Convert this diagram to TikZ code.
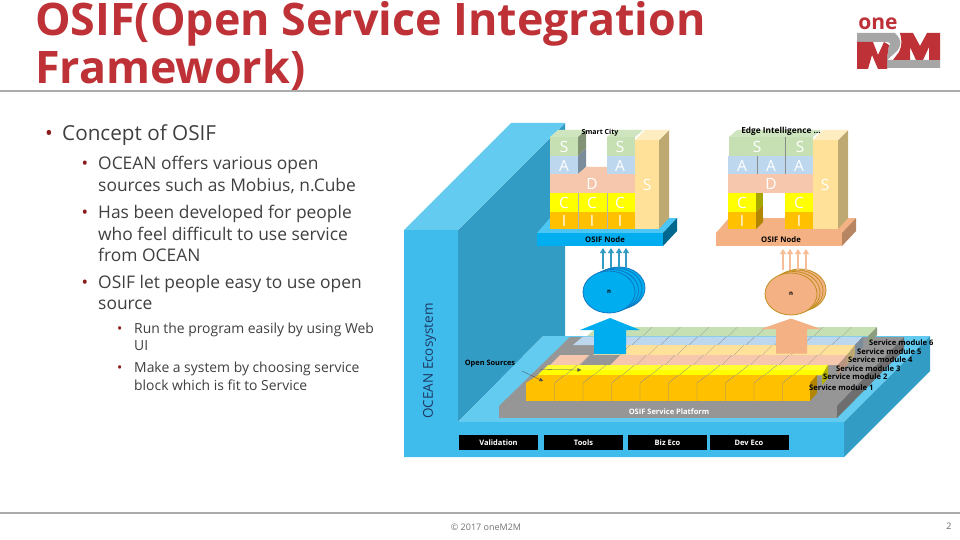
\documentclass[tikz,border=0pt]{standalone}
\usepackage{fontspec}
\setmainfont{Open Sans}
\usetikzlibrary{arrows.meta,shapes.geometric}
\definecolor{titlered}{HTML}{BE3237}
\definecolor{bodytxt}{HTML}{404040}
\definecolor{bulletred}{HTML}{8B1A1A}
\definecolor{wallfront}{HTML}{3FBCEC}
\definecolor{walltop}{HTML}{63CAF0}
\definecolor{wallside}{HTML}{339CC4}
\definecolor{gtop}{HTML}{969696}
\definecolor{gside}{HTML}{6E6E6E}
\definecolor{orng}{HTML}{FFC000}
\definecolor{yel}{HTML}{FFFF00}
\definecolor{pch}{HTML}{F6C7AC}
\definecolor{pyel}{HTML}{FFE199}
\definecolor{pblu}{HTML}{BDD7EE}
\definecolor{pgrn}{HTML}{C6E0B4}
\definecolor{nodeblue}{HTML}{00ADEF}
\definecolor{nodeor}{HTML}{F4B183}
\definecolor{lm}{HTML}{BE3237}
\definecolor{ellbline}{HTML}{1078C0}
\definecolor{elloline}{HTML}{C09020}
\definecolor{navytxt}{HTML}{1F3864}
\tikzset{
  px/.style={x=1pt,y=-1pt},
  bodyA/.style={anchor=base west,text=bodytxt,font=\fontsize{20.7}{21}\selectfont,inner sep=0pt},
  bodyB/.style={anchor=base west,text=bodytxt,font=\fontsize{17.4}{21.5}\selectfont,inner sep=0pt},
  bodyC/.style={anchor=base west,text=bodytxt,font=\fontsize{13.9}{18}\selectfont,inner sep=0pt},
  dotA/.style={bodyA,text=bulletred},
  dotB/.style={bodyB,text=bulletred},
  dotC/.style={bodyC,text=bulletred},
  ttl/.style={anchor=base west,text=titlered,font=\fontsize{44.8}{46}\selectfont\bfseries,inner sep=0pt},
  capt/.style={inner sep=0pt,text=black,font=\fontsize{7}{8}\selectfont\bfseries},
  capnode/.style={capt,font=\fontsize{7.7}{8}\selectfont\bfseries},
  blockbtn/.style={fill=black,text=white,minimum width=79pt,minimum height=15pt,inner sep=0pt,font=\fontsize{7.5}{8}\selectfont\bfseries},
  ltr/.style={inner sep=0pt,text=white,font=\fontsize{15.5}{16}\selectfont},
  ell/.style={ellipse,minimum width=52pt,minimum height=42pt,inner sep=0pt,line width=.8pt,font=\fontsize{6}{7}\selectfont\bfseries},
  ellb/.style={ell,draw=ellbline,fill=nodeblue},
  ello/.style={ell,draw=elloline,fill=nodeor},
  upb/.style={-{Triangle[length=5pt,width=6pt]},line width=1.2pt,draw=wallside},
  upo/.style={-{Triangle[length=5pt,width=6pt]},line width=1.2pt,draw=nodeor!85!white},
  div/.style={draw=black!45,line width=.3pt},
  smod/.style={inner sep=0pt,anchor=base west,text=black,font=\fontsize{7.6}{8}\selectfont\bfseries},
}
\begin{document}
\begin{tikzpicture}[px]
\useasboundingbox (0,0) rectangle (960,540);
\fill[white] (0,0) rectangle (960,540);
% title
\node[ttl] (t1) at (35,36) {OSIF(Open Service Integration};
\node[ttl] (t2) at (35,83.5) {Framework)};
\fill[black!33] (0,90) rectangle (960,92.5);
\fill[black!33] (0,512) rectangle (960,514);
% logo
\node[inner sep=0pt,text=lm,font=\fontsize{21}{21}\selectfont\bfseries] (logoone) at (878,24) {one};
\fill[black!35] (857,33) -- (895,33) .. controls (902,40) and (902,46) .. (896,52) -- (887,60) -- (940,60) -- (940,68) -- (887,68) -- (887,58) -- (889,46) .. controls (891,44) and (890,42) .. (886,42) -- (857,42) -- cycle;
\fill[lm] (857,42) -- (873,42) -- (878,55) -- (884,42) -- (889,45) -- (887,58) -- (887,69) -- (878,69) -- (872,55) -- (868,69) -- (857,69) -- cycle;
\fill[lm] (900,33) -- (913,33) -- (920,46) -- (927,33) -- (940,33) -- (940,60) -- (929,60) -- (929,47) -- (923,60) -- (916,60) -- (910,47) -- (910,60) -- (893,60) -- (899,52) .. controls (902,46) and (902,40) .. (900,33) -- cycle;
% bullets
\node[bodyA] (b0) at (62,141) {Concept of OSIF};
\node[dotA] (b0d) at (45,141) {•};
\node[bodyB] (b1a) at (98,170) {OCEAN offers various open};
\node[bodyB] (b1b) at (98,191) {sources such as Mobius, n.Cube};
\node[bodyB] (b2a) at (98,218) {Has been developed for people};
\node[bodyB] (b2b) at (98,240) {who feel difficult to use service};
\node[bodyB] (b2c) at (98,261) {from OCEAN};
\node[bodyB] (b3a) at (98,288) {OSIF let people easy to use open};
\node[bodyB] (b3b) at (98,309) {source};
\node[dotB] (d1) at (81.5,170) {•};
\node[dotB] (d2) at (81.5,218) {•};
\node[dotB] (d3) at (81.5,288) {•};
\node[bodyC] (c1a) at (134,333) {Run the program easily by using Web};
\node[bodyC] (c1b) at (134,350) {UI};
\node[bodyC] (c2a) at (134,372) {Make a system by choosing service};
\node[bodyC] (c2b) at (134,390) {block which is fit to Service};
\node[dotC] (e1) at (117,333) {•};
\node[dotC] (e2) at (117,372) {•};
% ocean block
\fill[wallside] (458,230) -- (565,123) -- (565,336) -- (543,336) -- (458,422) -- cycle;
\fill[walltop] (404,230) -- (511,123) -- (565,123) -- (458,230) -- cycle;
\fill[walltop] (458,422) -- (543,336) -- (930,336) -- (844,422) -- cycle;
\fill[wallside] (844,422) -- (930,336) -- (930,371) -- (844,457) -- cycle;
\fill[wallfront] (404,230) -- (458,230) -- (458,422) -- (844,422) -- (844,457) -- (404,457) -- cycle;
\node[rotate=90,inner sep=0pt,text=navytxt,font=\fontsize{13.5}{14}\selectfont] (oe) at (429.5,361) {OCEAN Ecosystem};
% platform
\fill[gtop] (499,406) -- (570,337) -- (904,337) -- (837,406) -- cycle;
\fill[gside] (837,406) -- (904,337) -- (904,350) -- (837,418) -- cycle;
\fill[gtop] (499,406) rectangle (837,418);
\node[inner sep=0pt,text=white,font=\fontsize{7.5}{8}\selectfont\bfseries] (pl) at (669,412) {OSIF Service Platform};
% module 6
\fill[pgrn] (587,336) -- (597,327) -- (877,327) -- (868,336) -- cycle;
\fill[pgrn!70!black] (868,336) -- (877,327) -- (877,335) -- (868,345) -- cycle;
% module 5
\fill[pblu] (573,345) -- (583,336.5) -- (863,336.5) -- (855,345) -- cycle;
\fill[pblu!65!black] (855,345) -- (863,336.5) -- (863,347) -- (855,355) -- cycle;
% module 4
\fill[pyel] (593,355) -- (603,345) -- (855,345) -- (847,355) -- cycle;
\fill[pyel!75!black] (847,355) -- (855,345) -- (855,355) -- (847,365) -- cycle;
% module 3
\fill[pch] (550,365) -- (560,355) -- (847,355) -- (838,365) -- cycle;
\fill[pch!75!black] (838,365) -- (847,355) -- (847,365) -- (838,375) -- cycle;
\fill[gtop] (580,365) -- (590,355) -- (620,355) -- (610,365) -- cycle;
% module 2
\fill[yel!80!white] (538,375) -- (548,365) -- (828,365) -- (822,375) -- cycle;
\fill[yel] (543,370) -- (538,375) -- (822,375) -- (825,370) -- cycle;
\fill[yel!70!black] (822,375) -- (828,365) -- (828,378) -- (822,385) -- cycle;
% module 1
\fill[orng] (526,383) -- (538,375) -- (817,375) -- (810,383) -- cycle;
\fill[orng] (526,383) rectangle (810,401);
\fill[orng!70!black] (810,383) -- (817,375) -- (817,393) -- (810,401) -- cycle;
% dividers
\foreach \k in {1,...,9}{
  \pgfmathsetmacro{\xx}{526+28.5*\k}
  \draw[div] (\xx,401) -- (\xx,383) -- (\xx+10,375);
  \draw[div] (\xx+11,375) -- (\xx+23,365);
  \draw[div] (\xx+25,365) -- (\xx+35,355);
  \draw[div] (\xx+37,355) -- (\xx+47,345);
  \draw[div] (\xx+49,345) -- (\xx+58,336.5);
  \draw[div] (\xx+60,336) -- (\xx+69,327);
}
% big arrows
\fill[nodeblue] (610,318) -- (640,330) -- (626,330) -- (626,354) -- (594,354) -- (594,330) -- (580,330) -- cycle;
\fill[nodeor] (791,318.5) -- (821,329) -- (807,329) -- (807,353.5) -- (776,353.5) -- (776,329) -- (761,329) -- cycle;
% module labels
\node[smod] (m6) at (869,345.5) {Service module 6};
\node[smod] (m5) at (857,354) {Service module 5};
\node[smod] (m4) at (848,362.5) {Service module 4};
\node[smod] (m3) at (836,371) {Service module 3};
\node[smod] (m2) at (823,379.5) {Service module 2};
\node[smod] (m1) at (809,390.5) {Service module 1};
% open sources
\node[capt,font=\fontsize{7.4}{8}\selectfont\bfseries] (os) at (490,364) {Open Sources};
\coordinate (osa) at (543,381);
\coordinate (osb) at (581,370);
\draw[-{Triangle[length=3.5pt,width=3.5pt]},line width=.3pt,black!70] (522,371) -- (osa);
\draw[-{Triangle[length=3.5pt,width=3.5pt]},line width=.3pt,black!70] (540,369.5) -- (osb);
% bottom boxes
\node[blockbtn] (v) at (498.5,442.5) {Validation};
\node[blockbtn] (tl) at (583.5,442.5) {Tools};
\node[blockbtn] (bz) at (667.5,442.5) {Biz Eco};
\node[blockbtn] (de) at (749,442.5) {Dev Eco};
% left stack: OSIF node
\fill[nodeblue!70!white] (537,233) -- (550,218) -- (677,218) -- (663,233) -- cycle;
\fill[nodeblue!60!black] (663,233) -- (677,218) -- (677,231) -- (663,246) -- cycle;
\fill[nodeblue] (537,233) rectangle (663,246);
\node[capnode] (n1) at (605,240) {OSIF Node};
% tall S
\fill[pyel!75!black] (659,140) -- (669,130) -- (669,218) -- (659,229) -- cycle;
\fill[pyel!60!white] (635,140) -- (645,130) -- (669,130) -- (659,140) -- cycle;
\fill[pyel] (635,140) rectangle (659,229);
\node[ltr] (s3) at (647,185) {S};
% left stack layers
\fill[pgrn!85!white] (550,137) -- (558,130) -- (586,130) -- (578,137) -- cycle;
\fill[pgrn!85!white] (607,137) -- (615,130) -- (643,130) -- (635,137) -- cycle;
\fill[pgrn!65!black] (578,137) -- (586,130) -- (586,148) -- (578,156) -- cycle;
\fill[pblu!65!black] (578,156) -- (586,148) -- (586,167) -- (578,174) -- cycle;
\fill[pch] (578,174) -- (586,167) -- (607,167) -- (607,174) -- cycle;
\fill[pgrn] (550,137) rectangle (578,156);
\fill[pgrn] (607,137) rectangle (635,156);
\fill[pblu] (550,156) rectangle (578,174);
\fill[pblu] (607,156) rectangle (635,174);
\fill[pch] (550,174) rectangle (635,193);
\fill[yel] (550,193) rectangle (635,212);
\fill[orng] (550,212) rectangle (635,229);
\foreach \xx in {578,607}{\draw[div,draw=black!30] (\xx,193) -- (\xx,229);}
\node[ltr] at (564,147) {S};
\node[ltr] at (620,147) {S};
\node[ltr] at (564,166) {A};
\node[ltr] at (620,166) {A};
\node[ltr] at (592,184) {D};
\foreach \xx in {564,592,620}{
  \node[ltr] at (\xx,203) {C};
  \node[ltr] at (\xx,221) {I};
}
\node[capt] (lt1) at (600,132.5) {Smart City};
% right stack: OSIF node
\fill[nodeor] (716,233) -- (729,218) -- (856,218) -- (842,233) -- cycle;
\fill[nodeor!75!black] (842,233) -- (856,218) -- (856,231) -- (842,246) -- cycle;
\fill[nodeor] (716,233) rectangle (842,246);
\node[capnode] (n2) at (781,240) {OSIF Node};
\fill[pyel!75!black] (838,140) -- (848,130) -- (848,218) -- (838,229) -- cycle;
\fill[pyel!60!white] (813,140) -- (823,130) -- (848,130) -- (838,140) -- cycle;
\fill[pyel] (813,140) rectangle (838,229);
\node[ltr] (s4) at (825,185) {S};
\fill[pgrn!85!white] (729,137) -- (737,130) -- (821,130) -- (813,137) -- cycle;
\fill[pgrn] (729,137) rectangle (813,156);
\fill[pblu] (728,156) rectangle (813,174);
\fill[pch] (728,174) rectangle (813,193);
\fill[yel!65!black] (756,212) -- (763,205) -- (763,193) -- (756,193) -- cycle;
\fill[orng!70!black] (756,229) -- (763,222) -- (763,205) -- (756,212) -- cycle;
\fill[yel] (728,193) rectangle (756,212);
\fill[orng] (728,212) rectangle (756,229);
\fill[white] (763,193) rectangle (785,217);
\fill[yel] (785,193) rectangle (813,212);
\fill[orng] (785,212) rectangle (813,229);
\draw[div] (785,137) -- (785,156);
\draw[div] (757,156) -- (757,174);
\draw[div] (785,156) -- (785,174);
\node[ltr] at (757,147) {S};
\node[ltr] at (800,147) {S};
\node[ltr] at (742,166) {A};
\node[ltr] at (771,166) {A};
\node[ltr] at (799,166) {A};
\node[ltr] at (771,184) {D};
\node[ltr] at (742,203) {C};
\node[ltr] at (799,203) {C};
\node[ltr] at (742,221) {I};
\node[ltr] at (799,221) {I};
\node[capt,font=\fontsize{8.3}{9}\selectfont\bfseries] (lt2) at (781,131.5) {Edge Intelligence …};
% ellipses
\node[ellb] (b4) at (619,288) {};
\node[ellb] (b3) at (616,289) {};
\node[ellb] (b2) at (612.5,290.5) {};
\node[ellb] (b1) at (609,292) {n};
\node[ello] (o4) at (800,290) {};
\node[ello] (o3) at (797,291) {};
\node[ello] (o2) at (794,292.5) {};
\node[ello] (o1) at (791,294) {n};
% small arrows
\coordinate (ba) at (603,248);
\coordinate (bb) at (611,248);
\coordinate (bc) at (619,248);
\coordinate (bd) at (626,248);
\coordinate (oa) at (783,249);
\coordinate (ob) at (790,249);
\coordinate (oc) at (798,249);
\coordinate (od) at (806,249);
\draw[upb] (603,269) -- (ba);
\draw[upb] (611,268) -- (bb);
\draw[upb] (619,268) -- (bc);
\draw[upb] (626,268) -- (bd);
\draw[upo] (783,270) -- (oa);
\draw[upo] (790,270) -- (ob);
\draw[upo] (798,270) -- (oc);
\draw[upo] (806,270) -- (od);
% footer
\node[inner sep=0pt,text=black!55,font=\fontsize{9}{10}\selectfont] (fc) at (486,527) {© 2017 oneM2M};
\node[inner sep=0pt,text=black!60,font=\fontsize{9}{10}\selectfont] (pn) at (949,526) {2};
\end{tikzpicture}
\end{document}
